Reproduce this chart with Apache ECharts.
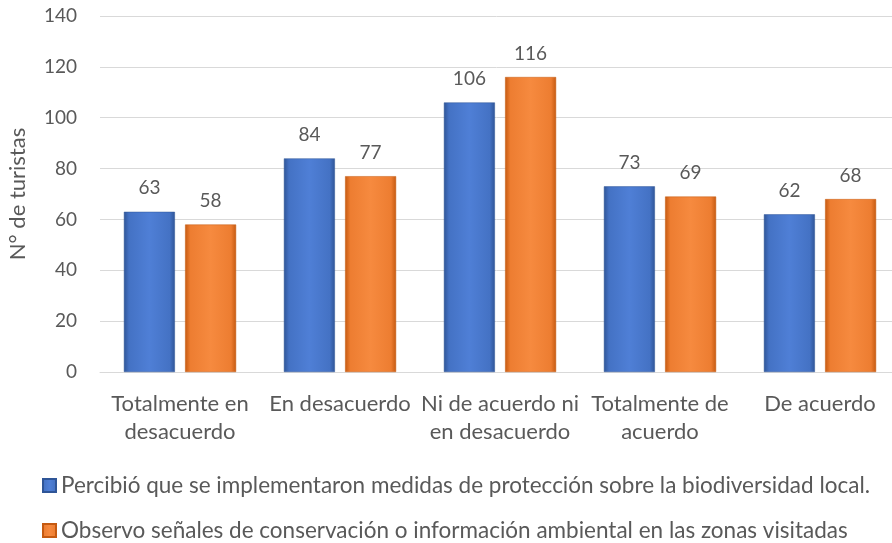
<!DOCTYPE html>
<html><head><meta charset="utf-8">
<script src="https://cdn.jsdelivr.net/npm/echarts@6/dist/echarts.min.js"></script>
<style>html,body{margin:0;padding:0;background:#fff}#c{width:892px;height:543px}</style>
</head><body><div id="c"></div>
<script>
const categories = ["Totalmente en\ndesacuerdo", "En desacuerdo", "Ni de acuerdo ni\nen desacuerdo", "Totalmente de\nacuerdo", "De acuerdo"];
const seriesNames = ["Percibió que se implementaron medidas de protección sobre la biodiversidad local.", "Observo señales de conservación o información ambiental en las zonas visitadas"];
const percibio = [63, 84, 106, 73, 62];
const observo = [58, 77, 116, 69, 68];
const yTicks = [0, 20, 40, 60, 80, 100, 120, 140];

const FONT = "Lato";
const TXT = "#595959";
function grad(c1, c2, c3) {
  return new echarts.graphic.LinearGradient(0, 0, 1, 0, [
    {offset: 0, color: c3}, {offset: 0.1, color: c1}, {offset: 0.5, color: c2}, {offset: 0.9, color: c1}, {offset: 1, color: c3}
  ]);
}
function legendFor(i, top) {
  return {
    orient: 'horizontal', left: 42, top: top, padding: 0, itemWidth: 13, itemHeight: 13,
    icon: 'rect',
    textStyle: {fontFamily: FONT, fontSize: 22.5, lineHeight: 22, color: TXT},
    data: [seriesNames[i]]
  };
}
const chart = echarts.init(document.getElementById('c'));
chart.setOption({
  animation: false,
  textStyle: {fontFamily: FONT},
  grid: {left: 100, top: 16, width: 800, height: 356, containLabel: false, outerBoundsMode: 'none'},
  legend: [legendFor(0, 474), legendFor(1, 519)],
  xAxis: {
    type: 'category', data: categories,
    axisLine: {lineStyle: {color: '#d9d9d9', width: 1}},
    axisTick: {show: false},
    axisLabel: {color: TXT, fontSize: 22, lineHeight: 28, margin: 18, interval: 0, fontFamily: FONT}
  },
  yAxis: {
    type: 'value', min: 0, max: 140, interval: 20,
    name: 'N° de turistas', nameLocation: 'middle', nameGap: 71, nameRotate: 90,
    nameTextStyle: {color: TXT, fontSize: 22, fontFamily: FONT},
    axisLine: {show: false}, axisTick: {show: false},
    axisLabel: {color: TXT, fontSize: 19, margin: 23, fontFamily: FONT,
      formatter: v => yTicks.includes(v) ? String(v) : ''},
    splitLine: {lineStyle: {color: '#d9d9d9', width: 1}}
  },
  series: [
    {name: seriesNames[0], type: 'bar', data: percibio, barWidth: 51, barGap: '20%',
     itemStyle: {color: grad('#4472C4', '#4F7FD6', '#2F5597'), borderColor: '#2F5597', borderWidth: 0.5},
     label: {show: true, position: 'top', distance: 14, color: TXT, fontSize: 19, fontFamily: FONT}},
    {name: seriesNames[1], type: 'bar', data: observo, barWidth: 51,
     itemStyle: {color: grad('#ED7D31', '#F68A3F', '#C55A11'), borderColor: '#C55A11', borderWidth: 0.5},
     label: {show: true, position: 'top', distance: 14, color: TXT, fontSize: 19, fontFamily: FONT}}
  ]
});
</script></body></html>
